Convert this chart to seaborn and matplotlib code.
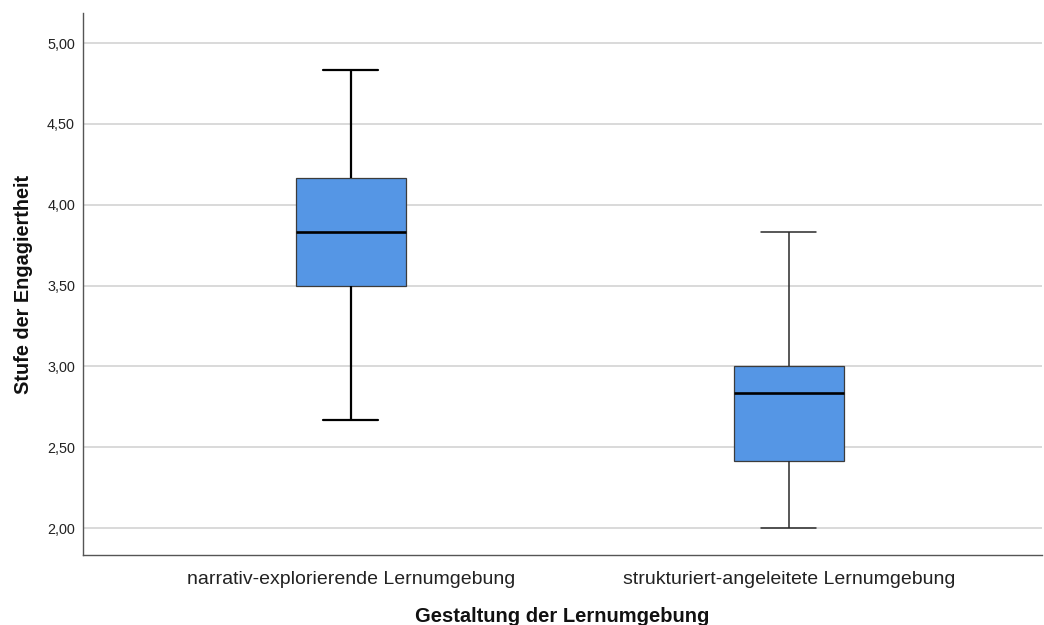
import matplotlib
matplotlib.use("Agg")
import matplotlib.pyplot as plt
import seaborn as sns
import pandas as pd
from matplotlib.ticker import FuncFormatter

# Engagement scores per learning environment (mean of six items)
groups = ["narrativ-explorierende Lernumgebung", "strukturiert-angeleitete Lernumgebung"]
scores_narrativ = [2.6667, 3.5, 3.5, 3.8333, 4.1667, 4.1667, 4.8333]
scores_strukturiert = [2.0, 2.4167, 2.4167, 2.8333, 3.0, 3.0, 3.8333]

y_ticks = [2.0, 2.5, 3.0, 3.5, 4.0, 4.5, 5.0]

df = pd.DataFrame({
    "Gestaltung": [groups[0]] * len(scores_narrativ) + [groups[1]] * len(scores_strukturiert),
    "Engagiertheit": scores_narrativ + scores_strukturiert,
})

sns.set_theme(style="white")
plt.rcParams["font.family"] = ["Liberation Sans", "DejaVu Sans"]

fig = plt.figure(figsize=(10.44, 6.25), dpi=100)
ax = fig.add_axes([0.0795, 0.112, 0.9185, 0.867])

fill = "#5596e5"
styles = [
    dict(whisk=1.6, col="#000000"),
    dict(whisk=1.1, col="#2a2a2a"),
]
for g, st in zip(groups, styles):
    sub = df[df["Gestaltung"] == g]
    sns.boxplot(
        data=sub, x="Gestaltung", y="Engagiertheit", order=groups,
        width=0.251, color=fill, saturation=1, whis=1.5, fliersize=0,
        boxprops=dict(facecolor=fill, edgecolor="#3c3c3c", linewidth=0.9),
        whiskerprops=dict(color=st["col"], linewidth=st["whisk"]),
        capprops=dict(color=st["col"], linewidth=st["whisk"]),
        medianprops=dict(color="#000000", linewidth=1.9),
        ax=ax, zorder=3,
    )

ax.set_xlim(-0.612, 1.578)
ax.set_ylim(1.833, 5.186)
ax.set_yticks(y_ticks)
ax.yaxis.set_major_formatter(FuncFormatter(lambda v, p: f"{v:.2f}".replace(".", ",")))

ax.grid(axis="y", color="#cfcfcf", linewidth=1.1, zorder=0)
ax.set_axisbelow(True)
for side in ["top", "right"]:
    ax.spines[side].set_visible(False)
for side in ["left", "bottom"]:
    ax.spines[side].set_color("#555555")
    ax.spines[side].set_linewidth(1.0)

ax.tick_params(axis="y", length=0, pad=5.8, labelsize=10.4, labelcolor="#222222")
ax.tick_params(axis="x", length=0, pad=11.5, labelsize=14, labelcolor="#222222")

ax.set_ylabel("Stufe der Engagiertheit", fontsize=14.3, fontweight="bold", color="#111111", labelpad=10)
ax.set_xlabel("Gestaltung der Lernumgebung", fontsize=14.5, fontweight="bold", color="#111111", labelpad=14)

fig.savefig("out.png", dpi=100)
